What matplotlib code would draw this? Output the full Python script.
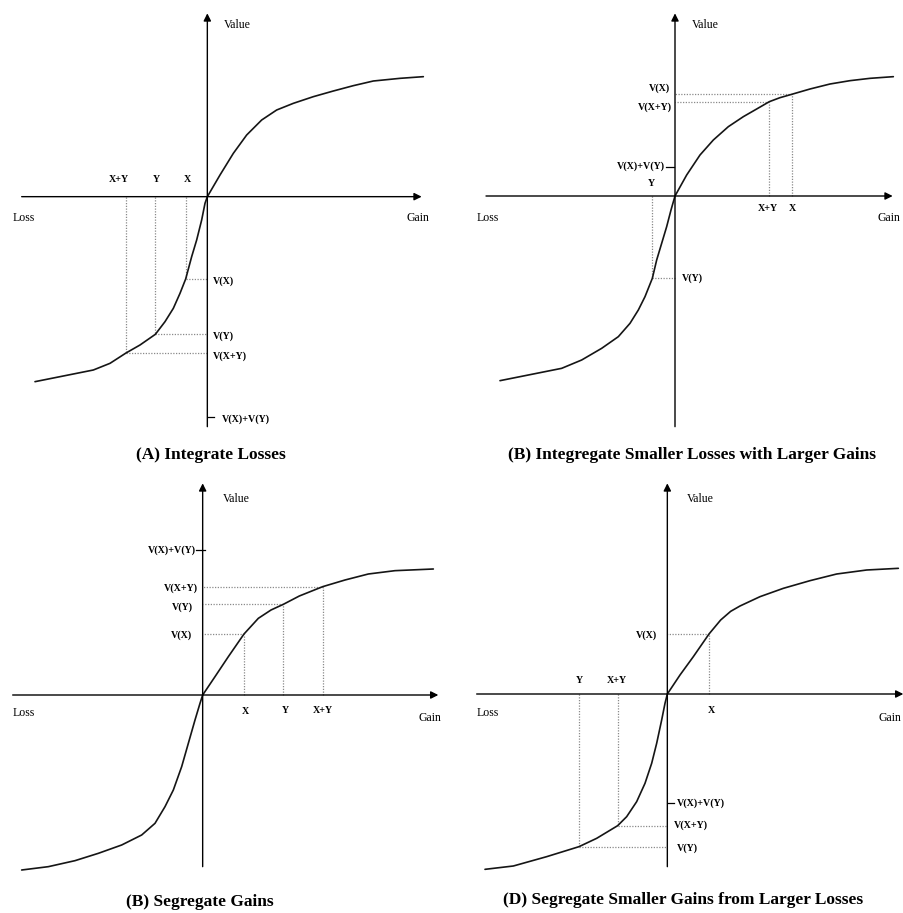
import matplotlib
matplotlib.use('Agg')
import matplotlib.pyplot as plt

W, H = 904, 913
fig = plt.figure(figsize=(W / 100, H / 100), dpi=100)
SERIF = ['Liberation Serif', 'DejaVu Serif']

# ---------------- data (offsets from each panel's origin) -------------
A_curve_x = [-517, -432, -342, -292, -244, -202, -156, -127, -102, -82, -65, -47, -32, -17, -7, 0,
             38, 78, 118, 163, 208, 258, 318, 378, 438, 498, 578, 648]
A_curve_y = [-555, -538, -520, -500, -469, -445, -413, -375, -335, -290, -247, -180, -130, -70, -20, 0,
             65, 130, 185, 230, 260, 280, 300, 317, 333, 347, 355, 360]
A_marks = ['X', 'Y', 'X+Y']
A_mark_x = [-65, -156, -244]
A_mark_v = [-247, -413, -469]
A_sum_v = -660

B_curve_x = [-525, -440, -340, -280, -220, -170, -135, -110, -90, -68, -55, -40, -25, -12, 0,
             35, 75, 115, 160, 205, 245, 283, 315, 350, 405, 465, 525, 585, 655]
B_curve_y = [-554, -537, -517, -492, -457, -422, -382, -342, -302, -247, -192, -142, -92, -42, 0,
             63, 123, 168, 208, 238, 261, 283, 295, 305, 321, 336, 346, 353, 358]
B_marks = ['X', 'Y', 'X+Y']
B_mark_x = [350, -68, 283]
B_mark_v = [305, -247, 283]
B_sum_v = 88

C_curve_x = [-543, -463, -383, -313, -243, -183, -143, -113, -88, -63, -43, -23, -8, 0,
             37, 77, 124, 167, 205, 242, 290, 360, 427, 497, 577, 692]
C_curve_y = [-525, -515, -497, -475, -450, -420, -385, -335, -285, -215, -145, -75, -25, 0,
             55, 115, 183, 230, 255, 272, 297, 325, 345, 363, 373, 378]
C_marks = ['X', 'Y', 'X+Y']
C_mark_x = [124, 242, 360]
C_mark_v = [183, 272, 325]
C_sum_v = 435

D_curve_x = [-547, -462, -362, -265, -212, -149, -122, -92, -67, -47, -32, -17, -7, 0,
             38, 78, 125, 160, 190, 218, 278, 348, 428, 508, 598, 693]
D_curve_y = [-526, -516, -488, -458, -433, -395, -368, -323, -268, -208, -148, -78, -28, 0,
             57, 112, 180, 222, 248, 264, 292, 317, 340, 360, 372, 377]
D_marks = ['X', 'Y', 'X+Y']
D_mark_x = [125, -265, -149]
D_mark_v = [180, -458, -395]
D_sum_v = -328

TITLES = ['(A) Integrate Losses',
          '(B) Integregate Smaller Losses with Larger Gains',
          '(B) Segregate Gains',
          '(D) Segregate Smaller Gains from Larger Losses']
AXIS_NAMES = ['Value', 'Loss', 'Gain']
SUM_LABEL = 'V(X)+V(Y)'


def panel(rect, origin, hext, vext, cx, cy, marks, mx, mv, sum_v, lay, title):
    x0, y0, w, h = rect
    ax = fig.add_axes([x0 / W, 1 - (y0 + h) / H, w / W, h / H])
    ox, oy = origin
    ax.set_xlim(-ox, 3 * w - ox)
    ax.set_ylim(oy - 3 * h, oy)
    ax.axis('off')
    ap = dict(arrowstyle='-|>', color='black', lw=1.0, shrinkA=0, shrinkB=0,
              mutation_scale=11)
    ax.annotate('', xy=(hext[1], 0), xytext=(hext[0], 0), arrowprops=ap)
    ax.annotate('', xy=(0, vext[1]), xytext=(0, vext[0]), arrowprops=ap)
    # dotted guides
    for x, v in zip(mx, mv):
        ax.plot([x, x], [0, v], ls=(0, (1, 1.2)), color='#8a8a8a', lw=0.9)
        ax.plot([x, 0], [v, v], ls=(0, (1, 1.2)), color='#8a8a8a', lw=0.9)
    ax.plot(cx, cy, color='#151515', lw=1.2, solid_joinstyle='round',
            solid_capstyle='round')
    # axis names
    for name, (tx, ty, ha) in zip(AXIS_NAMES, lay['names']):
        ax.text(tx, ty, name, ha=ha, va='center', fontsize=8.5, family=SERIF,
                clip_on=False)
    # mark labels
    for name, (tx, ty) in zip(marks, lay['xlab']):
        ax.text(tx, ty, name, ha='center', va='center', fontsize=7.2,
                fontweight='bold', family=SERIF)
    for name, (tx, ty, ha) in zip(marks, lay['vlab']):
        ax.text(tx, ty, 'V(%s)' % name, ha=ha, va='center', fontsize=7.2,
                fontweight='bold', family=SERIF)
    sx, sha, t0, t1 = lay['sum']
    ax.plot([t0, t1], [sum_v, sum_v], color='black', lw=0.9)
    ax.text(sx, sum_v - lay.get('sum_dy', 0), SUM_LABEL, ha=sha, va='center',
            fontsize=7.2, fontweight='bold', family=SERIF)
    tx, ty = lay['title']
    ax.text(tx, ty, title, ha='center', va='center', fontsize=12.5,
            fontweight='bold', family=SERIF)


panel((0, 0, 450, 470), (622, 590), (-557, 643), (-690, 550),
      A_curve_x, A_curve_y, A_marks, A_mark_x, A_mark_v, A_sum_v,
      dict(names=[(90, 515, 'center'), (-552, -65, 'center'), (633, -65, 'center')],
           xlab=[(-60, 50), (-152, 50), (-264, 50)],
           vlab=[(18, -253, 'left'), (18, -420, 'left'), (18, -478, 'left')],
           sum=(43, 'left', 3, 20), sum_dy=8, title=(10, -775)),
      TITLES[0])

panel((450, 0, 454, 470), (675, 588), (-567, 653), (-692, 548),
      B_curve_x, B_curve_y, B_marks, B_mark_x, B_mark_v, B_sum_v,
      dict(names=[(92, 513, 'center'), (-563, -67, 'center'), (643, -67, 'center')],
           xlab=[(352, -37), (-70, 38), (280, -37)],
           vlab=[(-15, 323, 'right'), (20, -247, 'left'), (-10, 266, 'right')],
           sum=(-30, 'right', -27, -3), title=(52, -777)),
      TITLES[1])

panel((0, 470, 450, 443), (608, 675), (-570, 707), (-515, 635),
      C_curve_x, C_curve_y, C_marks, C_mark_x, C_mark_v, C_sum_v,
      dict(names=[(100, 587, 'center'), (-538, -55, 'center'), (682, -70, 'center')],
           xlab=[(129, -50), (247, -47), (362, -47)],
           vlab=[(-31, 178, 'right'), (-30, 263, 'right'), (-13, 320, 'right')],
           sum=(-20, 'right', -20, 7), title=(-10, -620)),
      TITLES[2])

panel((450, 470, 454, 443), (652, 672), (-572, 708), (-518, 632),
      D_curve_x, D_curve_y, D_marks, D_mark_x, D_mark_v, D_sum_v,
      dict(names=[(100, 584, 'center'), (-539, -56, 'center'), (702, -73, 'right')],
           xlab=[(131, -50), (-265, 40), (-152, 40)],
           vlab=[(-32, 175, 'right'), (28, -463, 'left'), (20, -393, 'left')],
           sum=(28, 'left', 3, 20), title=(46, -618)),
      TITLES[3])

fig.savefig('out.png', dpi=100, facecolor='white')
